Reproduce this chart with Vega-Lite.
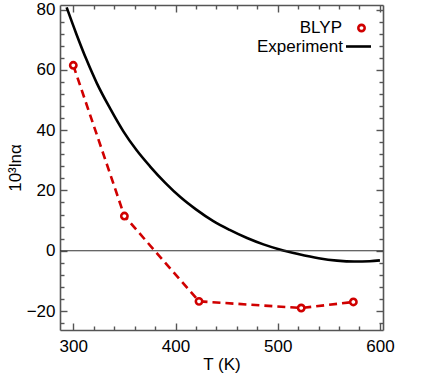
{
  "$schema": "https://vega.github.io/schema/vega-lite/v6.json",
  "width": 323,
  "height": 325,
  "autosize": {"type": "none"},
  "padding": {"left": 60, "top": 5, "right": 62, "bottom": 51},
  "background": "white",
  "config": {
    "font": "Liberation Sans",
    "view": {"stroke": null},
    "axis": {
      "grid": false,
      "domainColor": "#555555",
      "domainWidth": 1.6,
      "tickColor": "#555555",
      "tickWidth": 1.4,
      "labelFont": "Liberation Sans",
      "labelFontSize": 17,
      "labelColor": "black",
      "titleFont": "Liberation Sans",
      "titleFontSize": 17,
      "titleFontWeight": "normal",
      "titleColor": "black",
      "labelOverlap": false,
      "labelBound": false,
      "labelFlush": false
    },
    "legend": {
      "labelFont": "Liberation Sans",
      "labelFontSize": 17,
      "labelColor": "black",
      "padding": 0
    }
  },
  "datasets": {
    "exp": [
      {"T": 293.5, "v": 80.7, "series": "Experiment"},
      {"T": 303, "v": 71.9, "series": "Experiment"},
      {"T": 313, "v": 63.3, "series": "Experiment"},
      {"T": 323, "v": 55.6, "series": "Experiment"},
      {"T": 336, "v": 47.2, "series": "Experiment"},
      {"T": 349, "v": 39.6, "series": "Experiment"},
      {"T": 362, "v": 33.3, "series": "Experiment"},
      {"T": 375, "v": 28.0, "series": "Experiment"},
      {"T": 390, "v": 22.5, "series": "Experiment"},
      {"T": 405, "v": 17.7, "series": "Experiment"},
      {"T": 420, "v": 13.7, "series": "Experiment"},
      {"T": 437, "v": 9.8, "series": "Experiment"},
      {"T": 453, "v": 6.9, "series": "Experiment"},
      {"T": 470, "v": 4.2, "series": "Experiment"},
      {"T": 486, "v": 2.1, "series": "Experiment"},
      {"T": 502, "v": 0.4, "series": "Experiment"},
      {"T": 520, "v": -1.1, "series": "Experiment"},
      {"T": 540, "v": -2.5, "series": "Experiment"},
      {"T": 558, "v": -3.3, "series": "Experiment"},
      {"T": 575, "v": -3.6, "series": "Experiment"},
      {"T": 590, "v": -3.5, "series": "Experiment"},
      {"T": 600, "v": -3.2, "series": "Experiment"}
    ],
    "blyp": [
      {"T": 300, "v": 61.5, "series": "BLYP"},
      {"T": 350, "v": 11.5, "series": "BLYP"},
      {"T": 423, "v": -16.8, "series": "BLYP"},
      {"T": 523, "v": -19.0, "series": "BLYP"},
      {"T": 574, "v": -17.0, "series": "BLYP"}
    ],
    "zero": [{"v": 0, "T0": 287, "T1": 603}]
  },
  "resolve": {
    "axis": {"x": "independent", "y": "independent"},
    "scale": {"color": "independent"},
    "legend": {"color": "independent"}
  },
  "layer": [
    {
      "data": {"name": "exp"},
      "mark": {"type": "line", "interpolate": "monotone", "strokeWidth": 2.6, "clip": true},
      "encoding": {
        "x": {
          "field": "T", "type": "quantitative",
          "scale": {"domain": [287, 603], "nice": false, "zero": false},
          "axis": {
            "orient": "bottom",
            "title": "T (K)",
            "titlePadding": 2,
            "values": [300, 400, 500, 600],
            "ticks": false,
            "labelPadding": 8
          }
        },
        "y": {
          "field": "v", "type": "quantitative",
          "scale": {"domain": [-26.3, 81.5], "nice": false, "zero": false},
          "axis": {
            "orient": "left",
            "title": "10³lnα",
            "titlePadding": 2,
            "values": [-20, 0, 20, 40, 60, 80],
            "ticks": false,
            "labelPadding": 5
          }
        },
        "color": {
          "field": "series", "type": "nominal",
          "scale": {"domain": ["Experiment"], "range": ["black"]},
          "legend": {
            "title": null,
            "orient": "none",
            "legendX": 284.5,
            "legendY": 27.5,
            "symbolType": "stroke",
            "symbolSize": 625,
            "symbolStrokeWidth": 2.6,
            "labelAlign": "right",
            "labelOffset": -29.5
          }
        }
      }
    },
    {
      "data": {"name": "zero"},
      "mark": {"type": "rule", "color": "#333333", "strokeWidth": 1.1},
      "encoding": {
        "x": {
          "field": "T0", "type": "quantitative",
          "axis": {
            "orient": "top",
            "offset": -325,
            "title": null,
            "labels": false,
            "domain": false,
            "values": [300, 320, 340, 360, 380, 400, 420, 440, 460, 480, 500, 520, 540, 560, 580, 600],
            "tickSize": {"condition": {"test": "datum.value % 100 === 0", "value": 7}, "value": 4}
          }
        },
        "x2": {"field": "T1"},
        "y": {
          "field": "v", "type": "quantitative",
          "axis": {
            "orient": "right",
            "offset": -323,
            "title": null,
            "labels": false,
            "domain": false,
            "values": [-24, -20, -16, -12, -8, -4, 0, 4, 8, 12, 16, 20, 24, 28, 32, 36, 40, 44, 48, 52, 56, 60, 64, 68, 72, 76, 80],
            "tickSize": {"condition": {"test": "datum.value % 20 === 0", "value": 7}, "value": 4}
          }
        }
      }
    },
    {
      "data": {"name": "blyp"},
      "mark": {"type": "line", "color": "#d00000", "strokeWidth": 2.6, "strokeDash": [8, 5]},
      "encoding": {
        "x": {
          "field": "T", "type": "quantitative",
          "axis": {
            "orient": "bottom",
            "offset": -325,
            "title": null,
            "labels": false,
            "values": [300, 320, 340, 360, 380, 400, 420, 440, 460, 480, 500, 520, 540, 560, 580, 600],
            "tickSize": {"condition": {"test": "datum.value % 100 === 0", "value": 7}, "value": 4}
          }
        },
        "y": {
          "field": "v", "type": "quantitative",
          "axis": {
            "orient": "left",
            "offset": -323,
            "title": null,
            "labels": false,
            "values": [-24, -20, -16, -12, -8, -4, 0, 4, 8, 12, 16, 20, 24, 28, 32, 36, 40, 44, 48, 52, 56, 60, 64, 68, 72, 76, 80],
            "tickSize": {"condition": {"test": "datum.value % 20 === 0", "value": 7}, "value": 4}
          }
        }
      }
    },
    {
      "data": {"name": "blyp"},
      "mark": {"type": "point", "filled": false, "fill": "white", "fillOpacity": 1, "strokeWidth": 2.6, "size": 40, "opacity": 1},
      "encoding": {
        "x": {"field": "T", "type": "quantitative", "axis": null},
        "y": {"field": "v", "type": "quantitative", "axis": null},
        "color": {
          "field": "series", "type": "nominal",
          "scale": {"domain": ["BLYP"], "range": ["#d00000"]},
          "legend": {
            "title": null,
            "orient": "none",
            "legendX": 293,
            "legendY": 14.5,
            "symbolType": "circle",
            "symbolSize": 40,
            "symbolFillColor": "white",
            "symbolStrokeWidth": 2.6,
            "labelAlign": "right",
            "labelOffset": -28
          }
        }
      }
    }
  ]
}
